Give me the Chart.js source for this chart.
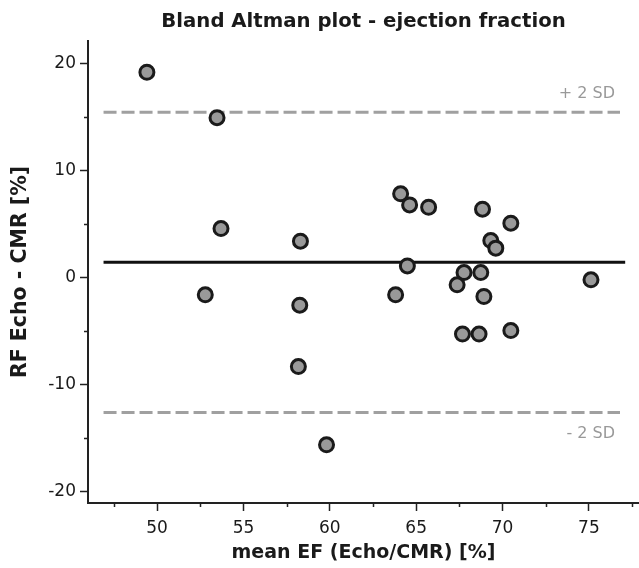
<!DOCTYPE html>
<html>
<head>
<meta charset="utf-8">
<script src="https://cdn.jsdelivr.net/npm/chart.js@4/dist/chart.umd.min.js"></script>
<style>
  html, body { margin: 0; padding: 0; background: #fff; overflow: hidden; }
  #wrap { width: 639px; height: 568px; position: relative; }
</style>
</head>
<body>
<div id="wrap"><canvas id="c"></canvas></div>
<script>
// ---- data ----
const meanEF = [49.41, 53.47, 53.70, 58.30, 52.79, 58.26, 58.18, 59.81, 64.10, 64.62, 65.72, 68.84, 70.48,
                69.32, 69.61, 64.49, 67.77, 68.74, 75.12, 63.81, 67.37, 68.92, 67.68, 68.64, 70.48];
const diffEF = [19.16, 14.92, 4.56, 3.38, -1.63, -2.60, -8.33, -15.64, 7.80, 6.77, 6.55, 6.37, 5.06,
                3.44, 2.73, 1.07, 0.45, 0.45, -0.23, -1.63, -0.70, -1.79, -5.30, -5.30, -4.97];
const meanDiff = 1.42;
const upperLimit = 15.42;
const lowerLimit = -12.62;
const meanLineX = [46.9, 77.1];
const sdLineX = [46.9, 76.8];
const xTicks = [47.5, 50, 52.5, 55, 57.5, 60, 62.5, 65, 67.5, 70, 72.5, 75, 77.5];
const yTicks = [-20, -15, -10, -5, 0, 5, 10, 15, 20];
const titleText = 'Bland Altman plot - ejection fraction';
const xTitle = 'mean EF (Echo/CMR) [%]';
const yTitle = 'RF Echo - CMR [%]';
const upperLabel = '+ 2 SD';
const lowerLabel = '- 2 SD';

const FONT = '"DejaVu Sans", Verdana, sans-serif';

const points = meanEF.map((x, i) => ({ x: x, y: diffEF[i] }));

const isMajorX = v => Math.abs(v / 5 - Math.round(v / 5)) < 1e-6;
const isMajorY = v => Math.abs(v / 10 - Math.round(v / 10)) < 1e-6;

const extras = {
  id: 'extras',
  afterDraw(chart) {
    const ctx = chart.ctx, ca = chart.chartArea;
    const xs = chart.scales.x, ys = chart.scales.y;
    ctx.save();
    // title centered over plot area
    ctx.fillStyle = '#1a1a1a';
    ctx.font = 'bold 19.7px ' + FONT;
    ctx.textAlign = 'center';
    ctx.textBaseline = 'middle';
    ctx.fillText(titleText, (ca.left + ca.right) / 2, 22);
    // minor ticks
    ctx.strokeStyle = '#222';
    ctx.lineWidth = 1.5;
    ctx.beginPath();
    xTicks.filter(v => !isMajorX(v)).forEach(v => {
      const px = Math.round(xs.getPixelForValue(v)) + 0.5;
      ctx.moveTo(px, ca.bottom); ctx.lineTo(px, ca.bottom + 4);
    });
    yTicks.filter(v => !isMajorY(v)).forEach(v => {
      const py = Math.round(ys.getPixelForValue(v)) + 0.5;
      ctx.moveTo(ca.left, py); ctx.lineTo(ca.left - 4, py);
    });
    ctx.stroke();
    // SD labels
    ctx.fillStyle = '#999';
    ctx.font = '16px ' + FONT;
    ctx.textAlign = 'right';
    ctx.textBaseline = 'middle';
    const lx = xs.getPixelForValue(sdLineX[1]) - 5;
    ctx.fillText(upperLabel, lx, ys.getPixelForValue(upperLimit) - 18);
    ctx.fillText(lowerLabel, lx, ys.getPixelForValue(lowerLimit) + 21);
    ctx.restore();
  }
};

new Chart(document.getElementById('c'), {
  type: 'scatter',
  data: {
    datasets: [
      {
        label: 'points',
        data: points,
        pointRadius: 7,
        pointHoverRadius: 7,
        pointBackgroundColor: '#999999',
        pointBorderColor: '#1a1a1a',
        pointBorderWidth: 3,
        order: 0
      },
      {
        type: 'line',
        label: 'mean',
        data: meanLineX.map(x => ({ x: x, y: meanDiff })),
        borderColor: '#111',
        borderWidth: 3,
        pointRadius: 0,
        order: 1
      },
      {
        type: 'line',
        label: '+2SD',
        data: sdLineX.map(x => ({ x: x, y: upperLimit })),
        borderColor: '#a0a0a0',
        borderWidth: 3,
        borderDash: [13, 5],
        pointRadius: 0,
        order: 1
      },
      {
        type: 'line',
        label: '-2SD',
        data: sdLineX.map(x => ({ x: x, y: lowerLimit })),
        borderColor: '#a0a0a0',
        borderWidth: 3,
        borderDash: [13, 5],
        pointRadius: 0,
        order: 1
      }
    ]
  },
  options: {
    responsive: true,
    maintainAspectRatio: false,
    animation: false,
    events: [],
    layout: { autoPadding: false, padding: { top: 41, right: 0, left: 0, bottom: 0 } },
    plugins: {
      legend: { display: false },
      tooltip: { enabled: false },
      title: { display: false }
    },
    scales: {
      x: {
        type: 'linear',
        min: 46.0,
        max: 77.9,
        afterBuildTicks: s => { s.ticks = xTicks.map(v => ({ value: v })); },
        afterFit: s => { s.height = 65; s.paddingLeft = 0; s.paddingRight = 0; },
        border: { display: true, color: '#222', width: 2 },
        grid: {
          drawOnChartArea: false,
          drawTicks: true,
          tickLength: 8,
          tickWidth: 1.5,
          tickColor: c => (c.tick && isMajorX(c.tick.value)) ? '#222' : 'rgba(0,0,0,0)'
        },
        ticks: {
          autoSkip: false,
          maxRotation: 0,
          padding: 7,
          color: '#1a1a1a',
          font: { family: FONT, size: 17 },
          callback: v => isMajorX(v) ? String(v) : ''
        },
        title: {
          display: true,
          text: xTitle,
          color: '#1a1a1a',
          font: { family: FONT, size: 19, weight: 'bold' },
          padding: { top: 0, bottom: 4 }
        }
      },
      y: {
        type: 'linear',
        min: -21.08,
        max: 22.08,
        afterBuildTicks: s => { s.ticks = yTicks.map(v => ({ value: v })); },
        afterFit: s => { s.width = 88; s.paddingTop = 0; s.paddingBottom = 0; },
        border: { display: true, color: '#222', width: 2 },
        grid: {
          drawOnChartArea: false,
          drawTicks: true,
          tickLength: 8,
          tickWidth: 1.5,
          tickColor: c => (c.tick && isMajorY(c.tick.value)) ? '#222' : 'rgba(0,0,0,0)'
        },
        ticks: {
          autoSkip: false,
          padding: 4,
          color: '#1a1a1a',
          font: { family: FONT, size: 17 },
          callback: v => isMajorY(v) ? String(v) : ''
        },
        title: {
          display: true,
          text: yTitle,
          color: '#1a1a1a',
          font: { family: FONT, size: 20.5, weight: 'bold' },
          padding: { top: 8, bottom: 0 }
        }
      }
    }
  },
  plugins: [extras]
});
</script>
</body>
</html>
